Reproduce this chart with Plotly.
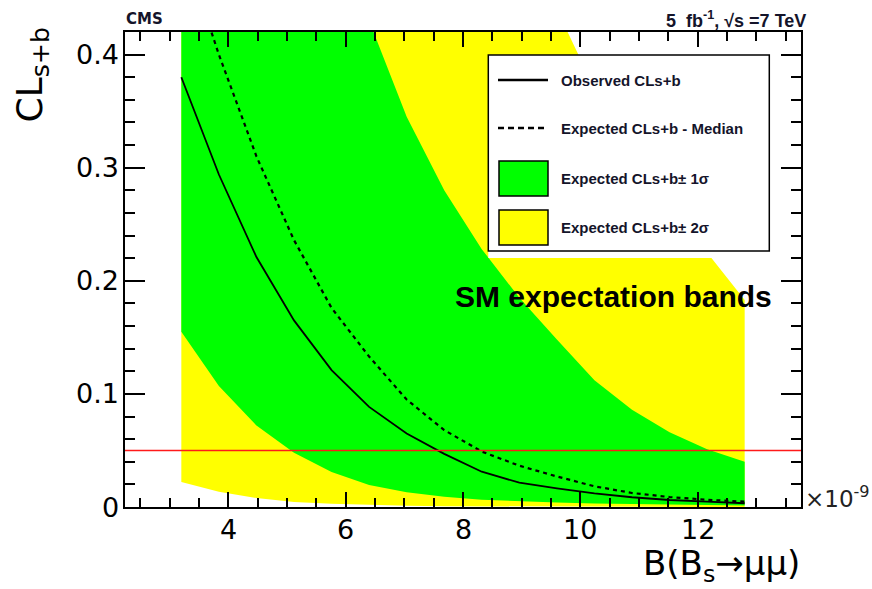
import plotly.graph_objects as go

# ---------------- data ----------------
bf_values = [3.2, 3.84, 4.48, 5.12, 5.76, 6.4, 7.04, 7.68, 8.32, 8.96,
             9.6, 10.24, 10.88, 11.52, 12.16, 12.8]           # x 1e-9
observed = [0.380, 0.294, 0.221, 0.165, 0.121, 0.0885, 0.065, 0.047, 0.0312,
            0.0215, 0.0165, 0.012, 0.0086, 0.0062, 0.0047, 0.0033]
expected_median = [0.50, 0.40, 0.31, 0.236, 0.176, 0.133, 0.095, 0.068, 0.049,
                   0.0365, 0.027, 0.0183, 0.0124, 0.0088, 0.0064, 0.0047]
one_sigma_hi = [0.95, 0.85, 0.74, 0.64, 0.53, 0.43, 0.345, 0.28, 0.228, 0.185,
                0.148, 0.112, 0.086, 0.066, 0.051, 0.040]
one_sigma_lo = [0.155, 0.107, 0.072, 0.048, 0.031, 0.0195, 0.013, 0.009, 0.0065,
                0.005, 0.004, 0.0032, 0.0026, 0.0021, 0.0017, 0.0014]
two_sigma_hi = [1.2, 1.1, 1.0, 0.92, 0.85, 0.78, 0.70, 0.62, 0.55, 0.49, 0.44,
                0.37, 0.315, 0.265, 0.225, 0.183]
two_sigma_lo = [0.022, 0.0135, 0.008, 0.0045, 0.0028, 0.0018, 0.0011, 0.0007,
                0.0005, 0.0004, 0.0003, 0.0002, 0.0002, 0.0001, 0.0001, 0.0001]
cl_threshold = 0.05
x_range = [2.24, 13.76]
y_range = [0.0, 0.42]
x_tick_vals = [4, 6, 8, 10, 12]
x_tick_text = ["4", "6", "8", "10", "12"]
y_tick_vals = [0, 0.1, 0.2, 0.3, 0.4]
y_tick_text = ["0", "0.1", "0.2", "0.3", "0.4"]
legend_labels = ["Observed CLs+b", "Expected CLs+b - Median",
                 "Expected CLs+b\u00b1 1\u03c3", "Expected CLs+b\u00b1 2\u03c3"]

# ---------------- layout geometry (pixels) ----------------
W, H = 872, 589
L, R, T, B = 125, 71, 32, 82
PW, PH = W - L - R, H - T - B


def px(xp):
    return (xp - L) / PW


def py(yp):
    return (H - B - yp) / PH


GREEN = "#00ff00"
YELLOW = "#ffff00"

fig = go.Figure()

# 2 sigma band
fig.add_trace(go.Scatter(
    x=bf_values + bf_values[::-1], y=two_sigma_hi + two_sigma_lo[::-1],
    fill="toself", fillcolor=YELLOW, line=dict(width=0), mode="lines",
    hoverinfo="skip", showlegend=False))
# 1 sigma band
fig.add_trace(go.Scatter(
    x=bf_values + bf_values[::-1], y=one_sigma_hi + one_sigma_lo[::-1],
    fill="toself", fillcolor=GREEN, line=dict(width=0), mode="lines",
    hoverinfo="skip", showlegend=False))
# expected median
fig.add_trace(go.Scatter(
    x=bf_values, y=expected_median, mode="lines",
    line=dict(color="black", width=2.2, dash="4px,4px"), showlegend=False))
# observed
fig.add_trace(go.Scatter(
    x=bf_values, y=observed, mode="lines",
    line=dict(color="black", width=1.8), showlegend=False))

shapes = []
# red threshold line
shapes.append(dict(type="line", xref="paper", yref="y", x0=0, x1=1,
                   y0=cl_threshold, y1=cl_threshold,
                   line=dict(color="#ff1a1a", width=1.6), layer="above"))
# legend white area and border
lx0, lx1, ly0, ly1 = 488.3, 769.3, 55, 251
shapes.append(dict(type="rect", xref="paper", yref="paper",
                   x0=px(lx0), x1=px(lx1), y0=py(258), y1=py(ly0),
                   fillcolor="white", line=dict(width=0), layer="above"))
shapes.append(dict(type="rect", xref="paper", yref="paper",
                   x0=px(lx0), x1=px(lx1), y0=py(ly1), y1=py(ly0),
                   fillcolor="rgba(0,0,0,0)", line=dict(color="black", width=1.5),
                   layer="above"))
# legend samples
shapes.append(dict(type="line", xref="paper", yref="paper",
                   x0=px(498), x1=px(548), y0=py(80), y1=py(80),
                   line=dict(color="black", width=2.5), layer="above"))
shapes.append(dict(type="line", xref="paper", yref="paper",
                   x0=px(498), x1=px(548), y0=py(128), y1=py(128),
                   line=dict(color="black", width=2.5, dash="6px,4px"), layer="above"))
shapes.append(dict(type="rect", xref="paper", yref="paper",
                   x0=px(499), x1=px(548), y0=py(196), y1=py(161),
                   fillcolor=GREEN, line=dict(color="black", width=1.5), layer="above"))
shapes.append(dict(type="rect", xref="paper", yref="paper",
                   x0=px(499), x1=px(548), y0=py(245), y1=py(210),
                   fillcolor=YELLOW, line=dict(color="black", width=1.5), layer="above"))

TICKFONT = dict(family="DejaVu Sans", size=27, color="black")
annotations = []
# tick labels
for v, t in zip(x_tick_vals, x_tick_text):
    annotations.append(dict(text=t, xref="x", yref="paper", x=v, y=py(529),
                            xanchor="center", yanchor="middle", showarrow=False,
                            font=TICKFONT))
for v, t in zip(y_tick_vals, y_tick_text):
    annotations.append(dict(text=t, xref="paper", yref="y", x=px(121), y=v,
                            xanchor="right", yanchor="middle", showarrow=False,
                            font=TICKFONT))
for lab, yc in zip(legend_labels, [80, 128, 178, 227]):
    annotations.append(dict(text="<b>" + lab + "</b>", xref="paper", yref="paper",
                            x=px(559), y=py(yc),
                            xanchor="left", yanchor="middle", showarrow=False,
                            font=dict(family="Liberation Sans", size=15, color="#14142a")))
annotations.append(dict(text="<b>SM expectation bands</b>", xref="paper", yref="paper",
                        x=px(453), y=py(296), xanchor="left", yanchor="middle",
                        showarrow=False,
                        font=dict(family="Liberation Sans", size=30, color="black")))
annotations.append(dict(text="<b>CMS</b>", xref="paper", yref="paper",
                        x=px(124), y=py(19.5), xanchor="left", yanchor="middle",
                        showarrow=False,
                        font=dict(family="DejaVu Sans", size=15, color="#14142a")))
annotations.append(dict(text="<b>5  fb<sup>-1</sup>, \u221as =7 TeV</b>", xref="paper",
                        yref="paper", x=px(808), y=py(20), xanchor="right",
                        yanchor="middle", showarrow=False,
                        font=dict(family="Liberation Sans", size=18, color="#14142a")))
annotations.append(dict(text="\u00d710<sup>-9</sup>", xref="paper", yref="paper",
                        x=px(803), y=py(497), xanchor="left", yanchor="middle",
                        showarrow=False,
                        font=dict(family="DejaVu Sans", size=23, color="#222")))
annotations.append(dict(text="B(B<sub>s</sub>\u2192\u03bc\u03bc)", xref="paper",
                        yref="paper", x=px(802), y=py(565), xanchor="right",
                        yanchor="middle", showarrow=False,
                        font=dict(family="DejaVu Sans", size=34, color="black")))
annotations.append(dict(text="CL<sub>s+b</sub>", xref="paper", yref="paper",
                        x=px(32), y=py(26), xanchor="center", yanchor="top",
                        textangle=-90, showarrow=False,
                        font=dict(family="DejaVu Sans", size=36, color="black")))

axis_common = dict(showline=True, linewidth=2, linecolor="black", mirror="ticks",
                   ticks="inside", tickwidth=1.5, tickcolor="black",
                   showgrid=False, zeroline=False, showticklabels=False)

fig.update_layout(
    width=W, height=H,
    margin=dict(l=L, r=R, t=T, b=B),
    paper_bgcolor="white", plot_bgcolor="white",
    showlegend=False,
    shapes=shapes, annotations=annotations,
    xaxis=dict(range=x_range, tickvals=x_tick_vals, ticklen=15,
               minor=dict(ticks="inside", ticklen=9, dtick=0.5, tickwidth=1.5,
                          tickcolor="black", showgrid=False),
               **axis_common),
    yaxis=dict(range=y_range, tickvals=y_tick_vals, ticklen=20,
               minor=dict(ticks="inside", ticklen=10, dtick=0.02, tickwidth=1.5,
                          tickcolor="black", showgrid=False),
               **axis_common),
)

fig.write_html("out.html")
